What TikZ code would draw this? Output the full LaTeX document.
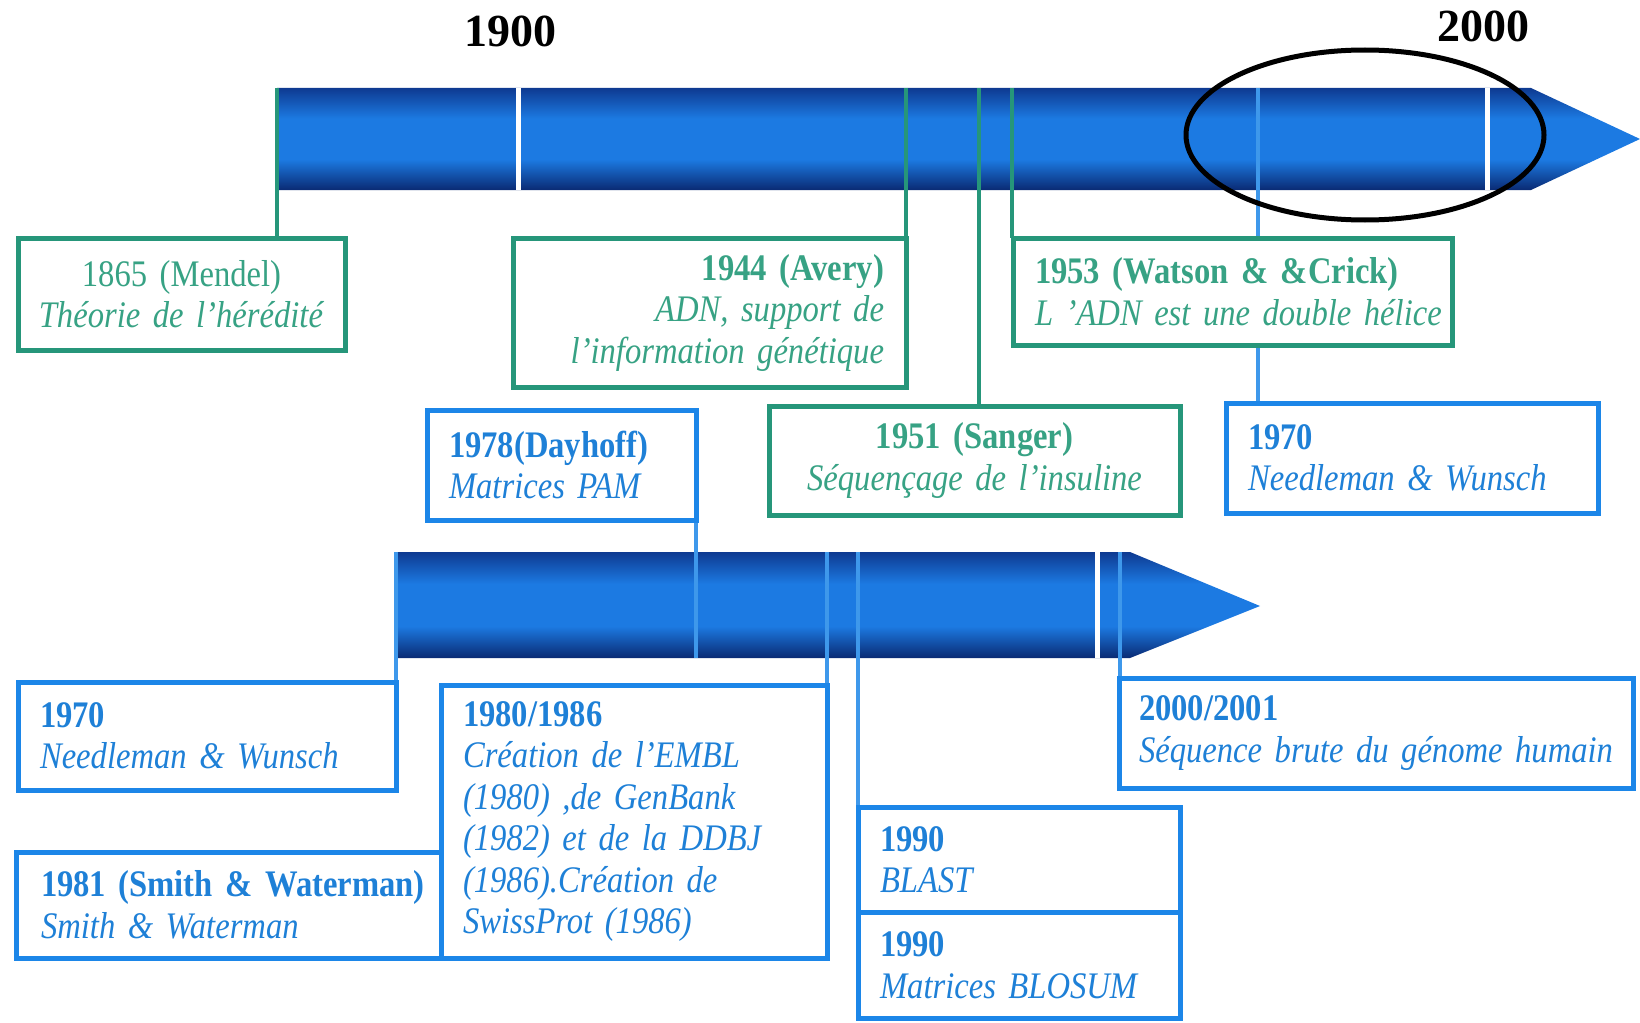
\documentclass[tikz,border=0pt]{standalone}
\usepackage{fontspec}
\setmainfont[FakeStretch=0.87,WordSpace=0.85]{Liberation Serif}
\newfontfamily\yearfont{Liberation Serif}
\usetikzlibrary{backgrounds}

\definecolor{tlgreen}{RGB}{38,150,122}
\definecolor{tlgreentxt}{RGB}{55,162,132}
\definecolor{tlblue}{RGB}{28,134,232}
\definecolor{tlbluetxt}{RGB}{30,128,215}
\definecolor{bartop}{RGB}{14,58,145}
\definecolor{barmid}{RGB}{28,122,226}
\definecolor{barbot}{RGB}{10,42,115}
\pgfdeclareverticalshading{barshade}{100bp}{color(0bp)=(barbot); color(25bp)=(barbot);
  color(40bp)=(barmid); color(60bp)=(barmid); color(75bp)=(bartop); color(100bp)=(bartop)}

\begin{document}
\begin{tikzpicture}[x=1pt,y=-1pt,
  evbox/.style={draw,line width=5pt,fill=white,anchor=north west,inner xsep=22pt,
    inner ysep=0pt,outer sep=0pt,font=\fontsize{37.5}{41.5}\selectfont},
  gbox/.style={evbox,draw=tlgreen,text=tlgreentxt},
  bbox/.style={evbox,draw=tlblue,text=tlbluetxt},
  gline/.style={tlgreen,line width=4pt},
  bline/.style={tlblue!85!white,line width=4pt},
  tickline/.style={white,line width=5pt},
  year/.style={font=\yearfont\fontsize{46}{50}\selectfont\bfseries}]
  \useasboundingbox (0,0) rectangle (1640,1022);

  \node[year] (y1900) at (510,31) {1900};
  \node[year] (y2000) at (1483,26) {2000};

  \coordinate (t1865) at (277,88);
  \coordinate (t1944) at (906,88);
  \coordinate (t1951) at (979,88);
  \coordinate (t1953) at (1012,88);
  \coordinate (t1970) at (1258,88);
  \coordinate (b1970) at (396,552);
  \coordinate (b1978) at (696,658);
  \coordinate (b1980) at (827,552);
  \coordinate (b1990) at (858,552);
  \coordinate (b2000) at (1120,552);

  % upper boxes
  \node[gbox,align=center,inner xsep=12pt,text width=303pt,minimum height=112pt] (mendel) at (18,238)
    {1865 (Mendel)\\\textit{Théorie de l'hérédité}};
  \node[gbox,align=right,text width=349pt,minimum height=149pt] (avery) at (513,238)
    {\textbf{1944 (Avery)}\\\textit{ADN, support de}\\\textit{l'information génétique}};
  \node[gbox,align=left,text width=395pt,minimum height=107pt] (watson) at (1013,238)
    {\mbox{\textbf{1953 (Watson \& \&Crick)}}\\\mbox{\textit{L 'ADN est une double hélice}}};
  \node[gbox,align=center,text width=367pt,minimum height=109pt] (sanger) at (769,406)
    {\textbf{1951 (Sanger)}\\\textit{Séquençage de l'insuline}};
  \node[bbox,align=left,text width=328pt,minimum height=110pt] (nwtop) at (1226,403)
    {\textbf{1970}\\\textit{Needleman \& Wunsch}};
  \node[bbox,align=left,text width=225pt,minimum height=110pt] (dayhoff) at (427,410)
    {\textbf{1978(Dayhoff)}\\\textit{Matrices PAM}};

  % lower boxes
  \node[bbox,align=left,text width=334pt,minimum height=108pt] (nwlow) at (18,682)
    {\textbf{1970}\\\textit{Needleman \& Wunsch}};
  \node[bbox,align=left,inner xsep=25pt,text width=375pt,minimum height=106pt] (smith) at (16,852)
    {\mbox{\textbf{1981 (Smith \& Waterman)}}\\\textit{Smith \& Waterman}};
  \node[bbox,align=left,text width=342pt,minimum height=273pt] (embl) at (441,685)
    {\textbf{1980/1986}\\\textit{Création de l'EMBL}\\\textit{(1980) ,de GenBank}\\
     \textit{(1982) et de la DDBJ}\\\textit{(1986).Création de}\\\textit{SwissProt (1986)}};
  \node[bbox,align=left,inner xsep=20pt,text width=474pt,minimum height=110pt] (genome) at (1119,678)
    {\textbf{2000/2001}\\\mbox{\textit{Séquence brute du génome humain}}};
  \node[bbox,align=left,text width=278pt,minimum height=105pt] (blast) at (858,807)
    {\textbf{1990}\\\textit{BLAST}};
  \node[bbox,align=left,text width=278pt,minimum height=106pt] (blosum) at (858,912)
    {\textbf{1990}\\\textit{Matrices BLOSUM}};

  \begin{scope}[on background layer]
    \shade[shading=barshade] (277,88) -- (1531,88) -- (1640,139) -- (1531,190) -- (277,190) -- cycle;
    \shade[shading=barshade] (396,552) -- (1130,552) -- (1260,606) -- (1130,658) -- (396,658) -- cycle;
    \draw[tickline] (518,88) -- (518,190);
    \draw[tickline] (1487,88) -- (1487,190);
    \draw[tickline] (1097,552) -- (1097,658);
    \draw[gline] (t1865) -- (t1865 |- mendel.north);
    \draw[gline] (t1944) -- (t1944 |- avery.north);
    \draw[gline] (t1951) -- (t1951 |- sanger.north);
    \draw[gline] (t1953) -- (t1953 |- watson.north);
    \draw[bline] (t1970) -- (t1970 |- nwtop.north);
    \draw[bline] (b1970) -- (b1970 |- nwlow.north);
    \draw[bline] (b1978 |- dayhoff.south) -- (b1978);
    \draw[bline] (b1980) -- (b1980 |- embl.north);
    \draw[bline] (b1990) -- (b1990 |- blast.north);
    \draw[bline] (b2000) -- (b2000 |- genome.north);
  \end{scope}

  \draw[line width=5pt] (1365,135) ellipse[x radius=179,y radius=85];
\end{tikzpicture}
\end{document}
